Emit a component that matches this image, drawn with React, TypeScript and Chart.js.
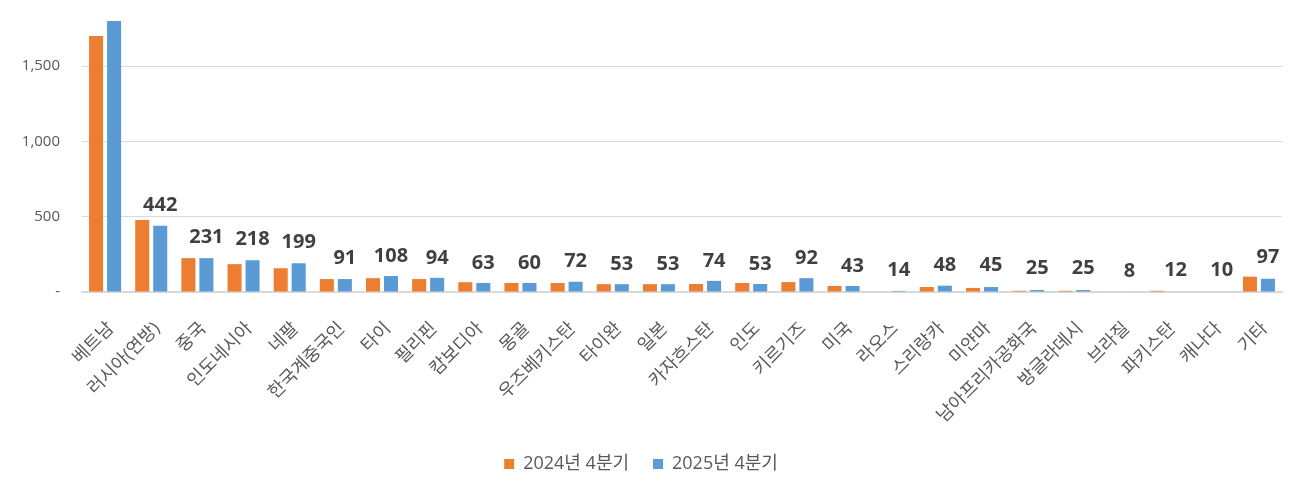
import React, { useEffect, useRef } from "react";
import { Chart, registerables } from "chart.js";

Chart.register(...registerables);

const categories = [
  "베트남", "러시아(연방)", "중국", "인도네시아", "네팔", "한국계중국인", "타이", "필리핀",
  "캄보디아", "몽골", "우즈베키스탄", "타이완", "일본", "카자흐스탄", "인도", "키르기즈",
  "미국", "라오스", "스리랑카", "미얀마", "남아프리카공화국", "방글라데시", "브라질",
  "파키스탄", "캐나다", "기타",
];

const series2024 = [
  1700, 478, 225, 185, 158, 86, 92, 86, 65, 60, 60, 52, 52, 53, 60, 66,
  40, 0, 33, 27, 8, 8, 0, 8, 0, 102,
];

const series2025 = [
  1800, 440, 225, 211, 191, 86, 106, 94, 60, 60, 68, 52, 52, 74, 53, 92,
  40, 7, 42, 33, 13, 13, 0, 0, 0, 88,
];

const labelValues: (number | null)[] = [
  null, 442, 231, 218, 199, 91, 108, 94, 63, 60, 72, 53, 53, 74, 53, 92,
  43, 14, 48, 45, 25, 25, 8, 12, 10, 97,
];

const yTickValues = [0, 500, 1000, 1500];

const legendNames = ["2024년 4분기", "2025년 4분기"];

const FONT = "'Open Sans', 'Noto Sans CJK KR', sans-serif";

const labelPlugin = {
  id: "valueLabels",
  afterDatasetsDraw(chart: any) {
    const meta = chart.getDatasetMeta(1);
    const yScale = chart.scales.y;
    const ctx = chart.ctx;
    ctx.save();
    ctx.font = `bold 20px ${FONT}`;
    ctx.fillStyle = "#404040";
    ctx.textAlign = "center";
    ctx.textBaseline = "alphabetic";
    labelValues.forEach((v, i) => {
      if (v == null) return;
      const x = meta.data[i].x;
      const y = yScale.getPixelForValue(v) - 14;
      if (y - 16 < chart.chartArea.top) return;
      ctx.fillText(String(v), x, y);
    });
    ctx.restore();
  },
};

export default function App() {
  const ref = useRef<HTMLCanvasElement | null>(null);
  useEffect(() => {
    if (!ref.current) return;
    const chart = new Chart(ref.current, {
      type: "bar",
      data: {
        labels: categories,
        datasets: [
          {
            label: legendNames[0],
            data: series2024,
            backgroundColor: "#ED7D31",
            categoryPercentage: 0.78,
            barPercentage: 0.78,
          },
          {
            label: legendNames[1],
            data: series2025,
            backgroundColor: "#5B9BD5",
            categoryPercentage: 0.78,
            barPercentage: 0.78,
          },
        ],
      },
      options: {
        animation: false,
        responsive: false,
        maintainAspectRatio: false,
        layout: { padding: { top: 0, right: 23, bottom: 11, left: 0 } },
        plugins: {
          tooltip: { enabled: false },
          legend: {
            position: "bottom",
            labels: {
              boxWidth: 10,
              boxHeight: 10,
              padding: 24,
              color: "#595959",
              font: { family: FONT, size: 18 },
            },
          },
        },
        scales: {
          x: {
            grid: { display: false },
            border: { display: true, color: "#d9d9d9", width: 1.5 },
            ticks: {
              minRotation: 45,
              maxRotation: 45,
              autoSkip: false,
              color: "#595959",
              padding: 18,
              labelOffset: 6,
              font: { family: FONT, size: 18 },
            },
            afterFit(scale: any) {
              scale.height = 139;
              scale.paddingLeft = 0;
              scale.paddingRight = 0;
            },
          },
          y: {
            min: 0,
            max: 1940,
            border: { display: false },
            grid: { color: "#d9d9d9", lineWidth: 1, drawTicks: false },
            ticks: {
              autoSkip: false,
              padding: 22,
              color: "#595959",
              font: { family: FONT, size: 15 },
              callback: (v: any) => {
                const n = Number(v);
                return n === 0 ? "-" : n.toLocaleString("en-US");
              },
            },
            afterBuildTicks(axis: any) {
              axis.ticks = yTickValues.map((v) => ({ value: v }));
            },
            afterFit(scale: any) {
              scale.width = 82;
              scale.paddingTop = 0;
              scale.paddingBottom = 0;
            },
          },
        },
      },
      plugins: [labelPlugin],
    });
    return () => chart.destroy();
  }, []);
  return (
    <div style={{ position: "absolute", left: 0, top: 0, width: 1305, height: 494, background: "#fff" }}>
      <canvas ref={ref} width={1305} height={494} style={{ width: 1305, height: 494 }} />
    </div>
  );
}
